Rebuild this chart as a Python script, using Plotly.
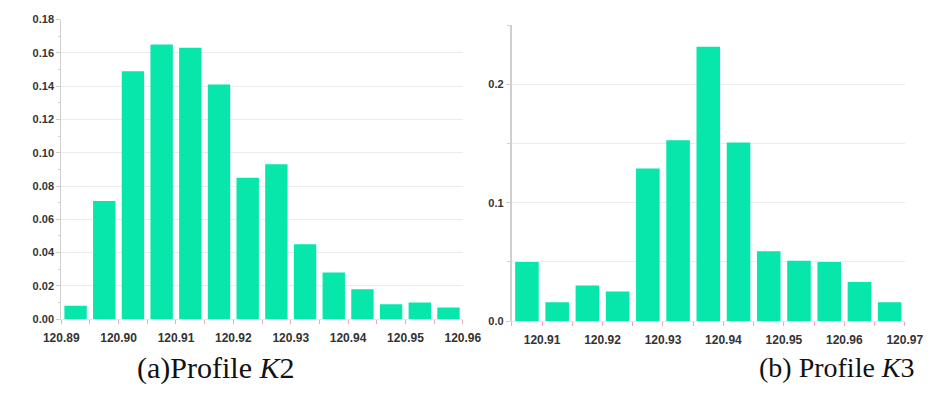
import plotly.graph_objects as go

# Histogram bins (bin centres) and relative frequencies for the two profiles
k2_bins = [120.8925, 120.8975, 120.9025, 120.9075, 120.9125, 120.9175, 120.9225,
           120.9275, 120.9325, 120.9375, 120.9425, 120.9475, 120.9525, 120.9575]
k2_freq = [0.008, 0.071, 0.149, 0.165, 0.163, 0.141, 0.085,
           0.093, 0.045, 0.028, 0.018, 0.009, 0.010, 0.007]

k3_bins = [120.9075, 120.9125, 120.9175, 120.9225, 120.9275, 120.9325, 120.9375,
           120.9425, 120.9475, 120.9525, 120.9575, 120.9625, 120.9675]
k3_freq = [0.050, 0.016, 0.030, 0.025, 0.129, 0.153, 0.232,
           0.151, 0.059, 0.051, 0.050, 0.033, 0.016]

k2_xticks = [120.89, 120.90, 120.91, 120.92, 120.93, 120.94, 120.95, 120.96]
k3_xticks = [120.91, 120.92, 120.93, 120.94, 120.95, 120.96, 120.97]
k2_yticks = [0.00, 0.02, 0.04, 0.06, 0.08, 0.10, 0.12, 0.14, 0.16, 0.18]
k3_yticks = [0.0, 0.1, 0.2]

captions = ["(a)Profile <i>K</i>2", "(b) Profile <i>K</i>3"]

BAR = "#07E6AB"
W, H = 943, 394
xtick_font = dict(family="Liberation Sans", size=12, color="#333333", weight="bold")
ytick_font = dict(family="Liberation Sans", size=11, color="#333333", weight="bold")


def px(x):
    return x / W


def py(y):
    return 1 - y / H


fig = go.Figure()
fig.add_trace(go.Bar(x=k2_bins, y=k2_freq, marker=dict(color=BAR, line_width=0),
                     xaxis="x", yaxis="y", showlegend=False))
fig.add_trace(go.Bar(x=k3_bins, y=k3_freq, marker=dict(color=BAR, line_width=0),
                     xaxis="x2", yaxis="y2", showlegend=False))

common_x = dict(
    showgrid=False, zeroline=False, showline=True, linecolor="#d9eeee", linewidth=1,
    ticks="outside", ticklen=4, tickcolor="#f2a6b8", tickwidth=1,
    tickfont=xtick_font, tickformat=".2f", ticklabelstandoff=3,
    minor=dict(ticks="outside", ticklen=4, tickcolor="#f2a6b8", dtick=0.005, showgrid=False),
)
common_y = dict(
    showgrid=True, gridcolor="#ebebeb", gridwidth=1, zeroline=False,
    showline=True, linecolor="#cfcfcf",
    ticks="outside", ticklen=4, tickcolor="#cfcfcf",
    tickfont=ytick_font,
)

fig.update_layout(
    width=W, height=H,
    margin=dict(l=0, r=0, t=0, b=0),
    paper_bgcolor="white", plot_bgcolor="white",
    bargap=0.22,
    xaxis=dict(domain=[px(45), px(463)], range=[120.89, 120.96],
               tickvals=k2_xticks, anchor="y", **common_x),
    yaxis=dict(domain=[py(323), py(14)], range=[0, 0.18], tickvals=k2_yticks,
               tickformat=".2f", linewidth=1, anchor="x",
               minor=dict(ticks="outside", ticklen=2, tickcolor="#cfcfcf", dtick=0.01,
                          showgrid=False),
               **common_y),
    xaxis2=dict(domain=[px(514), px(923)], range=[120.905, 120.97],
                tickvals=k3_xticks, anchor="y2", **common_x),
    yaxis2=dict(domain=[py(325), py(20)], range=[0, 0.25], tickvals=k3_yticks,
                tickformat=".1f", linewidth=2, anchor="x2",
                minor=dict(ticks="outside", ticklen=3, tickcolor="#cfcfcf", dtick=0.05,
                           showgrid=True, gridcolor="#ebebeb"),
                **common_y),
    font=dict(family="Liberation Sans", size=11),
)

for text, cx, size in zip(captions, [206, 852], [30, 28]):
    fig.add_annotation(text=text, xref="paper", yref="paper", x=px(cx), y=py(373),
                       xanchor="center", yanchor="middle", showarrow=False,
                       font=dict(family="Liberation Serif", size=size, color="#111111"))

fig.write_html("out.html")
